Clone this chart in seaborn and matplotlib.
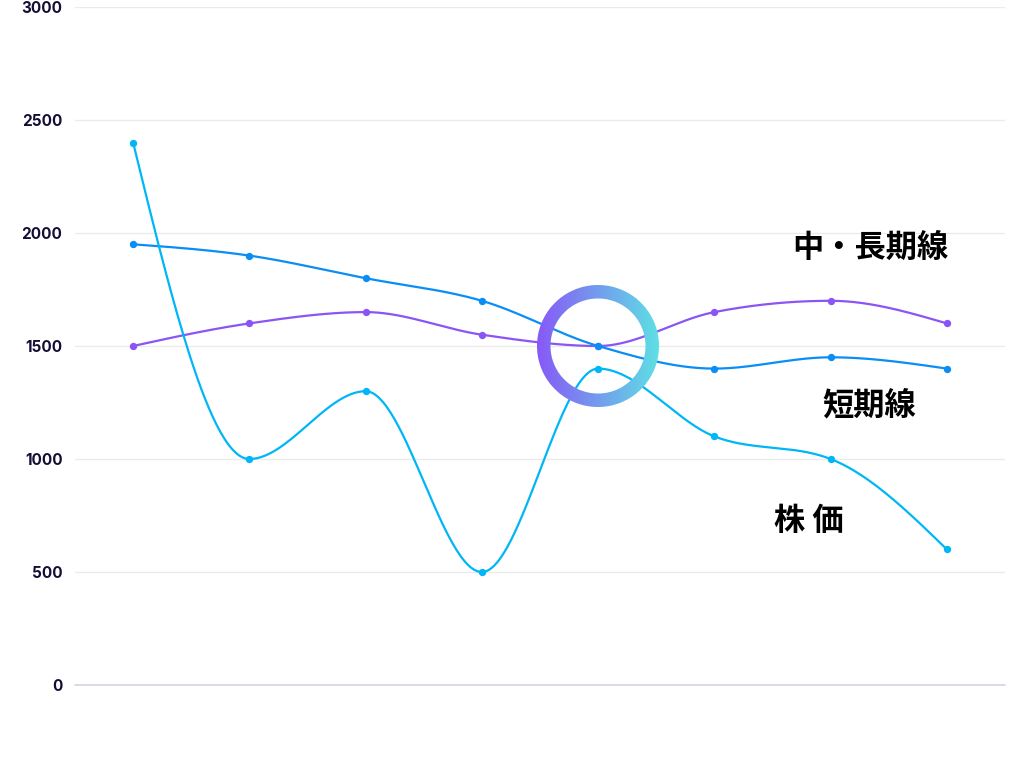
import numpy as np
import pandas as pd
import matplotlib
matplotlib.use("Agg")
import matplotlib.pyplot as plt
import seaborn as sns
from matplotlib.offsetbox import OffsetImage, AnnotationBbox

# ---- data ----
periods = [0, 1, 2, 3, 4, 5, 6, 7]
stock_price = [2400, 1000, 1300, 500, 1400, 1100, 1000, 600]
long_term = [1950, 1900, 1800, 1700, 1500, 1400, 1450, 1400]
short_term = [1500, 1600, 1650, 1550, 1500, 1650, 1700, 1600]
y_ticks = [0, 500, 1000, 1500, 2000, 2500, 3000]
label_long = "中・長期線"
label_short = "短期線"
label_stock = "株 価"
cross_point = (4, 1500)

COL_STOCK = "#00b6f6"
COL_LONG = "#0a8ef5"
COL_SHORT = "#8b55f5"

sns.set_theme(style="white")
plt.rcParams["font.family"] = ["Inter", "Noto Sans CJK JP", "DejaVu Sans"]


def monotone_curve(xs, ys, n=60):
    xs = np.asarray(xs, float)
    ys = np.asarray(ys, float)
    h = np.diff(xs)
    s = np.diff(ys) / h
    m = len(xs)
    t = np.zeros(m)
    sg = lambda v: -1.0 if v < 0 else 1.0
    for i in range(1, m - 1):
        p = (s[i - 1] * h[i] + s[i] * h[i - 1]) / (h[i - 1] + h[i])
        t[i] = (sg(s[i - 1]) + sg(s[i])) * min(abs(s[i - 1]), abs(s[i]), 0.5 * abs(p))
    t[0] = (3 * s[0] - t[1]) / 2
    t[-1] = (3 * s[-1] - t[-2]) / 2
    out_x, out_y = [], []
    for i in range(m - 1):
        u = np.linspace(0, 1, n, endpoint=(i == m - 2))
        h00 = 2 * u**3 - 3 * u**2 + 1
        h10 = u**3 - 2 * u**2 + u
        h01 = -2 * u**3 + 3 * u**2
        h11 = u**3 - u**2
        out_x.append(xs[i] + u * h[i])
        out_y.append(h00 * ys[i] + h10 * h[i] * t[i] + h01 * ys[i + 1] + h11 * h[i] * t[i + 1])
    return np.concatenate(out_x), np.concatenate(out_y)


fig = plt.figure(figsize=(10.24, 7.68), dpi=100)
ax = fig.add_axes([75 / 1024, 83 / 768, 930 / 1024, 678 / 768])

series = [(short_term, COL_SHORT), (long_term, COL_LONG), (stock_price, COL_STOCK)]
for vals, col in series:
    cx, cy = monotone_curve(periods, vals)
    sns.lineplot(x=cx, y=cy, ax=ax, color=col, linewidth=1.6, sort=False, zorder=3)
    sns.scatterplot(x=periods, y=vals, ax=ax, color=col, s=28, linewidth=0, zorder=4)

ax.set_xlim(-0.5, 7.5)
ax.set_ylim(0, 3000)
ax.set_yticks(y_ticks)
ax.set_yticklabels([str(v) for v in y_ticks])
ax.set_xticks([])
for sp in ax.spines.values():
    sp.set_visible(False)
ax.yaxis.grid(True, color="#ebebeb", linewidth=1)
ax.set_axisbelow(True)
ax.axhline(0, color="#d4d4e0", linewidth=1.2, zorder=2, clip_on=False)
ax.tick_params(axis="y", length=0, pad=9, labelsize=11, labelcolor="#160d36")
for lab in ax.get_yticklabels():
    lab.set_fontweight("bold")

# gradient ring around the crossing point
R_OUT, R_IN = 61.0, 47.5
size = 126
yy, xx = np.mgrid[0:size, 0:size] + 0.5
c = size / 2
r = np.hypot(xx - c, yy - c)
alpha = np.clip(R_OUT - r + 0.5, 0, 1) * np.clip(r - R_IN + 0.5, 0, 1)
c0 = np.array([0x88, 0x58, 0xf7]) / 255
c1 = np.array([0x5e, 0xe0, 0xe4]) / 255
f = np.clip((xx - (c - R_OUT)) / (2 * R_OUT), 0, 1)[..., None]
rgb = c0 * (1 - f) + c1 * f
img = np.dstack([rgb, alpha])
ob = OffsetImage(img, zoom=1, dpi_cor=False)
ab = AnnotationBbox(ob, cross_point, frameon=False, pad=0, box_alignment=(0.5, 0.5), zorder=6)
ax.add_artist(ab)

cjk = ["Noto Sans CJK JP", "DejaVu Sans"]
ax.text(6.34, 1935, label_long, ha="center", va="center", fontsize=22.5,
        fontweight="bold", color="#000000", family=cjk)
ax.text(6.33, 1235, label_short, ha="center", va="center", fontsize=22.5,
        fontweight="bold", color="#000000", family=cjk)
ax.text(5.81, 725, label_stock, ha="center", va="center", fontsize=22.5,
        fontweight="bold", color="#000000", family=cjk)

fig.savefig("out.png", dpi=100, facecolor="white")
